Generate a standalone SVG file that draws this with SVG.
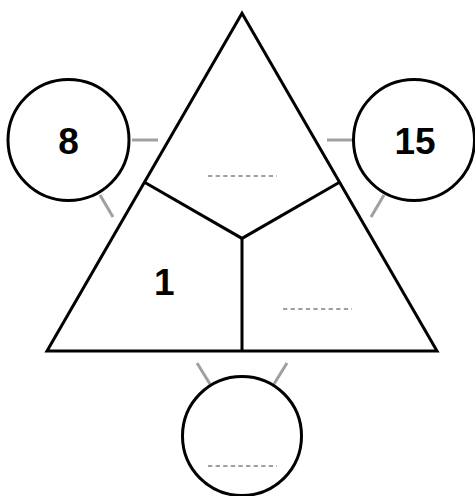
<svg xmlns="http://www.w3.org/2000/svg" width="475" height="496" viewBox="0 0 475 496">
<style>
.ln{fill:none;stroke:#000;stroke-width:3;stroke-linejoin:miter}
.nd{fill:#fff;stroke:#000;stroke-width:3}
.tk{stroke:#a0a0a2;stroke-width:3;fill:none}
.dt{stroke:#a0a0a2;stroke-width:2;stroke-dasharray:4.3 3.3;fill:none}
.lb{font-family:"Liberation Sans",Arial,sans-serif;font-weight:bold;font-size:37px;fill:#000}
</style>
<rect width="475" height="496" fill="#fff"/>
<g id="connectors">
<line class="tk" x1="132" y1="140" x2="158" y2="140"/>
<line class="tk" x1="100" y1="195" x2="113" y2="217"/>
<line class="tk" x1="327" y1="140" x2="353" y2="140"/>
<line class="tk" x1="384" y1="195" x2="371" y2="217"/>
<line class="tk" x1="197" y1="363" x2="210" y2="384"/>
<line class="tk" x1="287" y1="363" x2="274" y2="384"/>
</g>
<g id="triangle">
<polygon class="ln" points="242,13.3 47,351 437,351"/>
<polyline class="ln" points="144.5,182.2 242,238.4 339.5,182.2"/>
<line class="ln" x1="242" y1="238.4" x2="242" y2="351"/>
<line class="dt" x1="208" y1="176" x2="277" y2="176"/>
<line class="dt" x1="283" y1="309" x2="352" y2="309"/>
<text class="lb" x="154" y="295">1</text>
</g>
<g id="node-left">
<circle class="nd" cx="68.5" cy="140" r="60.5"/>
<text class="lb" x="68.5" y="153.5" text-anchor="middle">8</text>
</g>
<g id="node-right">
<circle class="nd" cx="414" cy="140" r="60.5"/>
<text class="lb" x="415" y="153.5" text-anchor="middle">15</text>
</g>
<g id="node-bottom">
<circle class="nd" cx="242" cy="436" r="59.5"/>
<line class="dt" x1="208" y1="466" x2="277" y2="466"/>
</g>
</svg>
